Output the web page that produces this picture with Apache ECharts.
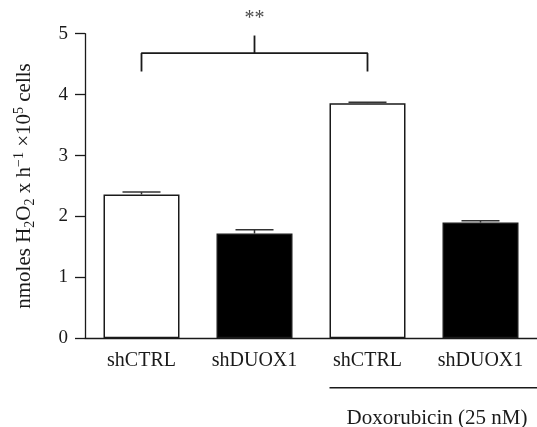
<!DOCTYPE html>
<html><head><meta charset="utf-8">
<script src="https://cdn.jsdelivr.net/npm/echarts@6/dist/echarts.min.js"></script>
<style>html,body{margin:0;padding:0;background:#fff}#c{width:537px;height:427px}</style>
</head><body><div id="c"></div>
<script>
const categories = ['shCTRL', 'shDUOX1', 'shCTRL', 'shDUOX1'];
const means = [2.36, 1.72, 3.86, 1.90];
const errors = [0.04, 0.06, 0.015, 0.03];
const fills = ['#ffffff', '#000000', '#ffffff', '#000000'];
const yTicks = [0, 1, 2, 3, 4, 5];
const bracketLeft = [[0, 4.38], [0, 4.68], [2, 4.68], [2, 4.38]];
const bracketMid = [[1, 4.68], [1, 4.97]];
const sigLabel = [[1, 5.25]];
const treatmentLabel = 'Doxorubicin (25 nM)';

const FONT = 'Liberation Serif';
const INK = '#1a1a1a';
const chart = echarts.init(document.getElementById('c'), null, {renderer: 'canvas'});

const option = {
  animation: false,
  grid: {left: 85, top: 33.7, width: 455, bottom: 88.7, containLabel: false},
  xAxis: {
    type: 'category', data: categories,
    axisLine: {lineStyle: {color: INK, width: 1.3}},
    axisTick: {show: false},
    axisLabel: {fontFamily: FONT, fontSize: 20, color: INK, margin: 12}
  },
  yAxis: {
    type: 'value', min: 0, max: 5, interval: 1,
    splitLine: {show: false},
    axisLine: {show: true, lineStyle: {color: INK, width: 1.3}},
    axisTick: {show: true, inside: false, length: 10, lineStyle: {color: INK, width: 1.3}},
    axisLabel: {fontFamily: FONT, fontSize: 19, color: INK, margin: 17,
      formatter: v => yTicks.includes(v) ? String(v) : ''},
    name: '{n|nmoles H}{s|2}{n|O}{s|2}{n| x h}{p|\u22121}{n| \u00d710}{p|5}{n| cells}',
    nameLocation: 'middle', nameRotate: 90, nameGap: 48,
    nameTextStyle: {
      fontFamily: FONT, color: INK,
      rich: {
        n: {fontFamily: FONT, fontSize: 21, color: INK, lineHeight: 25},
        s: {fontFamily: FONT, fontSize: 14, color: INK, lineHeight: 12, verticalAlign: 'bottom'},
        p: {fontFamily: FONT, fontSize: 14, color: INK, lineHeight: 15, verticalAlign: 'top'}
      }
    }
  },
  series: [
    {
      type: 'bar', barWidth: 76,
      data: means.map((v, i) => ({value: v, itemStyle: {color: fills[i], borderColor: INK, borderWidth: 1.5}})),
      z: 2
    },
    {
      type: 'custom', z: 3,
      data: means.map((v, i) => [i, v, v + errors[i]]),
      renderItem: (params, api) => {
        const x = api.value(0);
        const lo = api.coord([x, api.value(1)]);
        const hi = api.coord([x, api.value(2)]);
        const hw = 19;
        const st = {stroke: '#333', lineWidth: 1.5};
        return {type: 'group', children: [
          {type: 'line', shape: {x1: lo[0], y1: lo[1], x2: hi[0], y2: hi[1]}, style: st},
          {type: 'line', shape: {x1: hi[0] - hw, y1: hi[1], x2: hi[0] + hw, y2: hi[1]}, style: st}
        ]};
      }
    },
    {type: 'line', data: bracketLeft, symbol: 'none', clip: false, lineStyle: {color: INK, width: 1.8}, z: 4},
    {type: 'line', data: bracketMid, symbol: 'none', clip: false, lineStyle: {color: INK, width: 1.8}, z: 4},
    {type: 'scatter', data: sigLabel, clip: false, symbol: 'circle', symbolSize: 1, itemStyle: {color: 'rgba(0,0,0,0)'},
      label: {show: true, position: 'inside', formatter: '**', fontFamily: FONT, fontSize: 20, color: INK}, z: 5}
  ]
};
chart.setOption(option);

// treatment annotation: a line under bars 3–4 and its label, positioned through the axis scale
const p2 = chart.convertToPixel({gridIndex: 0}, [2, 0]);
const p3 = chart.convertToPixel({gridIndex: 0}, [3, 0]);
const halfBar = 38;
const lineY = p2[1] + 49.5;
chart.setOption({
  graphic: [
    {type: 'line', shape: {x1: p2[0] - halfBar, y1: lineY, x2: 537, y2: lineY}, style: {stroke: INK, lineWidth: 1.5}},
    {type: 'text', x: (p2[0] + p3[0]) / 2 + 13, y: lineY + 31,
      style: {text: treatmentLabel, font: '21px "' + FONT + '"', fill: INK, textAlign: 'center', textVerticalAlign: 'middle'}}
  ]
});
</script></body></html>
